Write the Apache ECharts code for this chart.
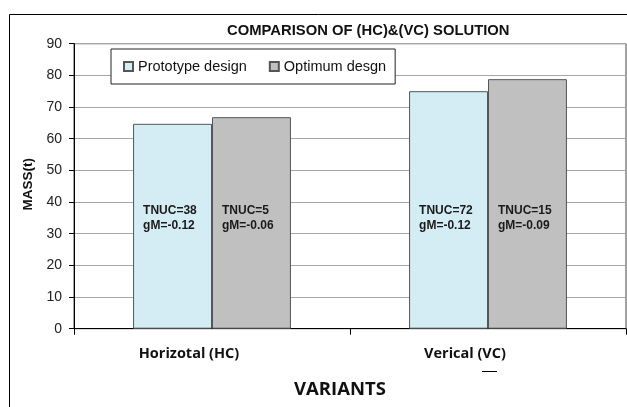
<!DOCTYPE html>
<html>
<head>
<meta charset="utf-8">
<script src="https://cdn.jsdelivr.net/npm/echarts@6/dist/echarts.min.js"></script>
<style>html,body{margin:0;padding:0;background:#fff;}#c{width:627px;height:407px;}</style>
</head>
<body>
<div id="c"></div>
<script>
var categories = ['Horizotal (HC)', 'Verical (VC)'];
var seriesNames = ['Prototype design', 'Optimum desgn'];
var prototypeValues = [64.7, 75.0];
var optimumValues = [66.8, 78.8];
var prototypeNotes = ['TNUC=38\ngM=-0.12', 'TNUC=72\ngM=-0.12'];
var optimumNotes = ['TNUC=5\ngM=-0.06', 'TNUC=15\ngM=-0.09'];
var yTicks = [0, 10, 20, 30, 40, 50, 60, 70, 80, 90];

var chart = echarts.init(document.getElementById('c'), null, {renderer: 'canvas'});

function noteLabel(notes) {
  return {
    show: true,
    position: 'insideBottomLeft',
    distance: 10,
    offset: [0, -86],
    align: 'left',
    verticalAlign: 'bottom',
    formatter: function (p) { return notes[p.dataIndex]; },
    fontFamily: 'Liberation Sans, Arial, sans-serif',
    fontWeight: 'bold',
    fontSize: 12,
    lineHeight: 15,
    color: '#1a1a1a'
  };
}

var option = {
  backgroundColor: '#fff',
  animation: false,
  title: {
    text: 'COMPARISON OF (HC)&(VC) SOLUTION',
    left: 222,
    top: 18,
    textStyle: {fontFamily: 'Liberation Sans, Arial, sans-serif', fontWeight: 'bold', fontSize: 14.8, color: '#111'}
  },
  legend: {
    left: 111,
    top: 49,
    orient: 'horizontal',
    data: seriesNames,
    backgroundColor: '#fff',
    borderColor: '#222',
    borderWidth: 1,
    borderRadius: 0,
    padding: [10, 9, 10, 12],
    itemWidth: 9,
    itemHeight: 9,
    itemGap: 22,
    icon: 'rect',
    textStyle: {fontFamily: 'Liberation Sans, Arial, sans-serif', fontSize: 14.5, color: '#111', padding: [0, 0, 0, 0]}
  },
  grid: {
    left: 74, top: 43.7, right: 1, bottom: 78.3,
    show: true, borderColor: '#444', borderWidth: 1, backgroundColor: 'transparent'
  },
  xAxis: {
    type: 'category',
    data: categories,
    name: 'VARIANTS',
    nameLocation: 'middle',
    nameGap: 52,
    nameTextStyle: {fontFamily: 'Open Sans, sans-serif', fontWeight: 'bold', fontSize: 18.5, color: '#111', padding: [0, 20, 0, 0]},
    axisLine: {show: true, lineStyle: {color: '#000', width: 1}},
    axisTick: {show: true, length: 6, lineStyle: {color: '#000'}},
    axisLabel: {
      margin: 18,
      formatter: function (v) { return '{a|' + v + '}'; },
      rich: {a: {fontFamily: 'Open Sans, sans-serif', fontWeight: 'bold', fontSize: 14.5, color: '#111', padding: [0, 46, 0, 0]}}
    },
    splitLine: {show: false}
  },
  yAxis: {
    type: 'value',
    min: 0, max: 90, interval: 10,
    name: 'MASS(t)',
    nameLocation: 'middle',
    nameGap: 37,
    nameTextStyle: {fontFamily: 'Liberation Sans, Arial, sans-serif', fontWeight: 'bold', fontSize: 13.5, color: '#111', padding: [0, 0, 0, 4]},
    axisLine: {show: true, lineStyle: {color: '#000', width: 1}},
    axisTick: {show: true, length: 5, lineStyle: {color: '#000'}},
    axisLabel: {
      margin: 12,
      fontFamily: 'Liberation Sans, Arial, sans-serif', fontSize: 14, color: '#222',
      formatter: function (v) { return yTicks.indexOf(v) >= 0 ? String(v) : ''; }
    },
    splitLine: {show: true, lineStyle: {color: '#a6a6a6', width: 1}}
  },
  series: [
    {
      name: seriesNames[0],
      type: 'bar',
      data: prototypeValues,
      barGap: '0%',
      barCategoryGap: '42.8%',
      itemStyle: {color: '#d4ecf3', borderColor: '#555', borderWidth: 1},
      label: noteLabel(prototypeNotes)
    },
    {
      name: seriesNames[1],
      type: 'bar',
      data: optimumValues,
      itemStyle: {color: '#c0c0c0', borderColor: '#555', borderWidth: 1},
      label: noteLabel(optimumNotes)
    }
  ],
  graphic: [
    {type: 'rect', silent: true, z: -1, shape: {x: 9.5, y: 14.5, width: 700, height: 500}, style: {fill: 'none', stroke: '#000', lineWidth: 1}},
    {type: 'line', silent: true, shape: {x1: 482, y1: 371.5, x2: 497, y2: 371.5}, style: {stroke: '#000', lineWidth: 1}}
  ]
};
chart.setOption(option);
</script>
</body>
</html>
